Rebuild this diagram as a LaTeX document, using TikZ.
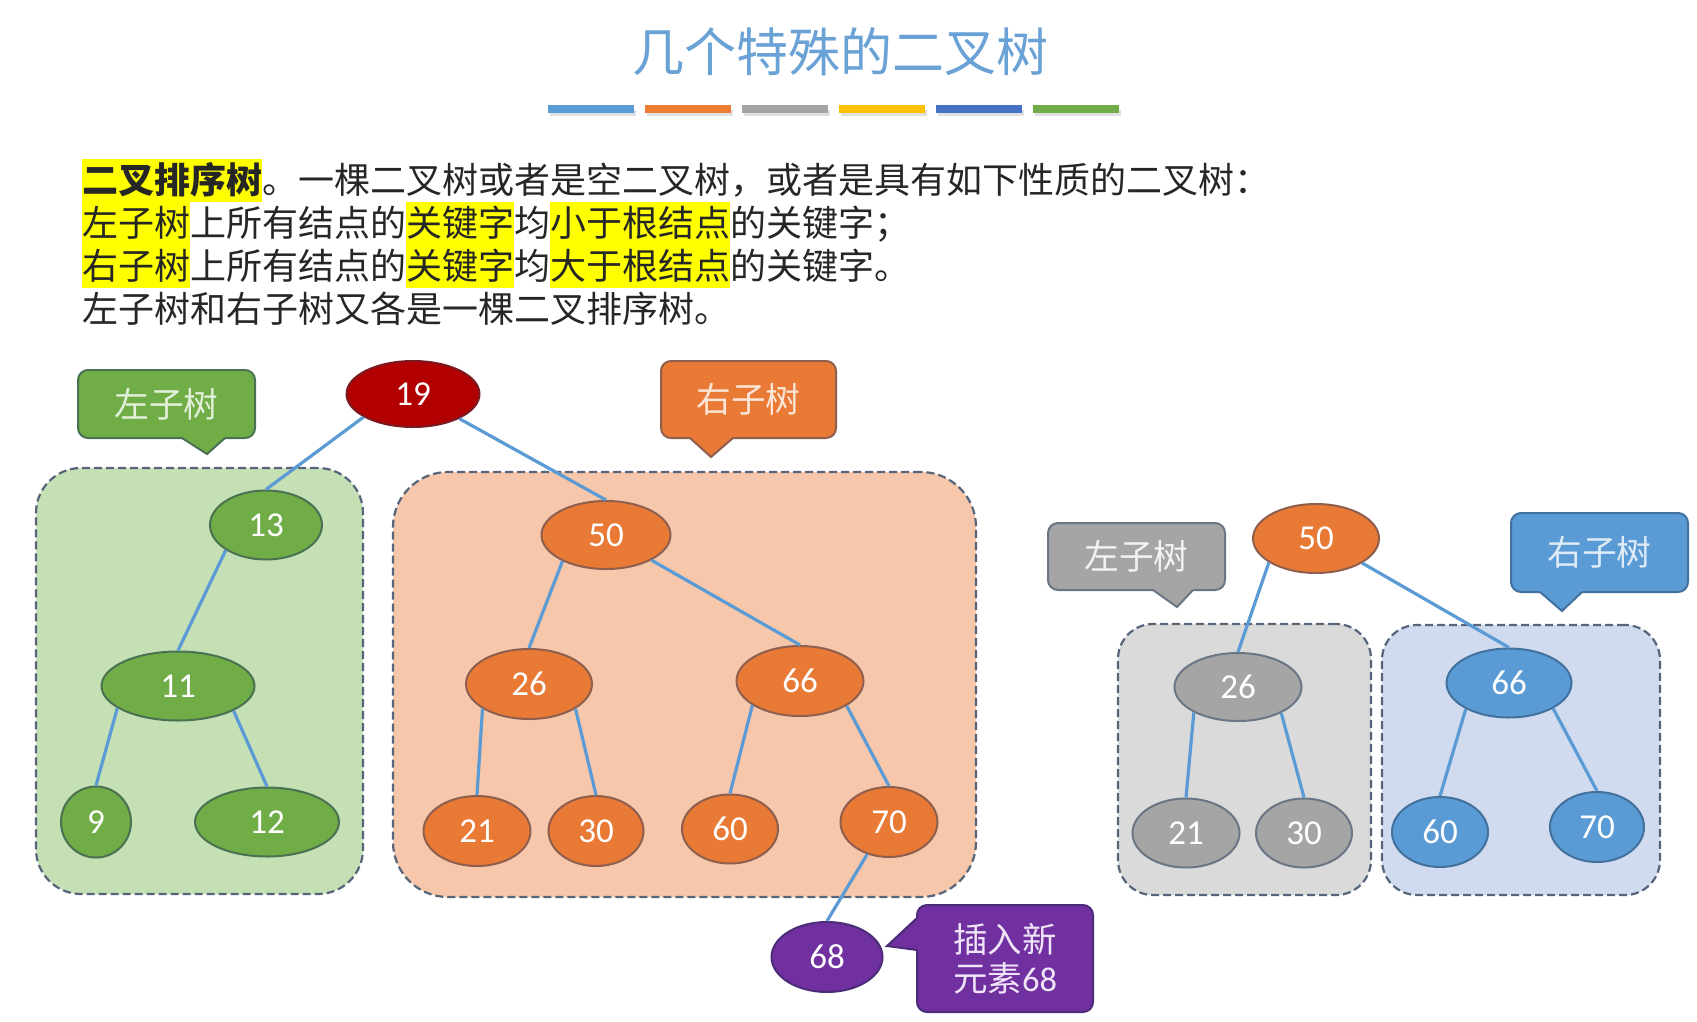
\documentclass[tikz,border=0pt]{standalone}
\usepackage{xcolor}
\usepackage{fontspec}
\setmainfont{Noto Sans CJK SC}
\newfontfamily\numfont{Carlito}
\usepackage{tikz}
\usetikzlibrary{shapes.geometric}

\definecolor{titleblue}{HTML}{6AA2D6}
\definecolor{txtgray}{HTML}{262626}
\definecolor{hlyellow}{HTML}{FFFF00}
\definecolor{edgeblue}{HTML}{5B9BD5}
\definecolor{dashgray}{HTML}{56657A}
\definecolor{barorange}{HTML}{ED7D31}
\definecolor{bargray}{HTML}{A5A5A5}
\definecolor{bargold}{HTML}{FFC000}
\definecolor{barblue}{HTML}{4472C4}
\definecolor{bargreen}{HTML}{70AD47}
\definecolor{rootred}{HTML}{B20000}
\definecolor{rootline}{HTML}{7A1A22}
\definecolor{grn}{HTML}{70AD47}
\definecolor{grnline}{HTML}{4B7153}
\definecolor{grnbg}{HTML}{C5E0B4}
\definecolor{grntxt}{HTML}{E2F0D9}
\definecolor{org}{HTML}{E97A35}
\definecolor{orgline}{HTML}{8E5E4E}
\definecolor{orgbg}{HTML}{F6C7AA}
\definecolor{orgtxt}{HTML}{FBE5D6}
\definecolor{gry}{HTML}{A5A5A5}
\definecolor{gryline}{HTML}{6A7684}
\definecolor{grybg}{HTML}{DADADA}
\definecolor{grytxt}{HTML}{F2F2F2}
\definecolor{blu}{HTML}{5B9BD5}
\definecolor{bluline}{HTML}{41719C}
\definecolor{blubg}{HTML}{D0DBF0}
\definecolor{blutxt}{HTML}{DEEBF7}
\definecolor{pur}{HTML}{7030A0}
\definecolor{purline}{HTML}{4A2C78}
\definecolor{purtxt}{HTML}{F0E4F8}

\newcommand{\hl}[1]{{\setlength{\fboxsep}{0pt}\colorbox{hlyellow}{\rule[-0.22em]{0pt}{1.18em}#1}}}

\begin{document}
\begin{tikzpicture}[x=1pt, y=-1pt]
\tikzstyle{txt} = [anchor=base west, inner sep=0pt, text=txtgray, font=\fontsize{36}{40}\selectfont]
\tikzstyle{subtree} = [rectangle, draw=dashgray, dash pattern=on 8pt off 4pt, line width=2.2pt, inner sep=0pt]
\tikzstyle{tag} = [rectangle, rounded corners=10pt, line width=2pt, inner sep=0pt, text height=30.5pt, text depth=4.2pt, font=\fontsize{34.7}{36}\selectfont]
\tikzstyle{tagline} = [line width=2pt, line join=miter]
\tikzstyle{bst} = [ellipse, draw, line width=2pt, inner sep=0pt, text=white, font=\numfont\fontsize{35}{35}\selectfont]
\tikzstyle{link} = [draw=edgeblue, line width=3.2pt]

	\fill[white] (0,0) rectangle (1697,1021);
	\useasboundingbox (0,0) rectangle (1697,1021);

	% title and colour bars
	\node[anchor=base, inner sep=0pt, text=titleblue, font=\fontsize{52}{56}\selectfont] (title) at (840,71.8) {几个特殊的二叉树};
	\fill[black!12] (550,110) rectangle ++(86,6);
	\fill[black!12] (647,110) rectangle ++(86,6);
	\fill[black!12] (744,110) rectangle ++(86,6);
	\fill[black!12] (841,110) rectangle ++(86,6);
	\fill[black!12] (938,110) rectangle ++(86,6);
	\fill[black!12] (1035,110) rectangle ++(86,6);
	\fill[edgeblue] (548,105) rectangle ++(86,8);
	\fill[barorange] (645,105) rectangle ++(86,8);
	\fill[bargray] (742,105) rectangle ++(86,8);
	\fill[bargold] (839,105) rectangle ++(86,8);
	\fill[barblue] (936,105) rectangle ++(86,8);
	\fill[bargreen] (1033,105) rectangle ++(86,8);

	% definition
	\node[txt] (line1) at (82,193.6) {\hl{\textbf{二叉排序树}}。一棵二叉树或者是空二叉树，或者是具有如下性质的二叉树：};
	\node[txt] (line2) at (82,236.6) {\hl{左子树}上所有结点的\hl{关键字}均\hl{小于根结点}的关键字；};
	\node[txt] (line3) at (82,279.6) {\hl{右子树}上所有结点的\hl{关键字}均\hl{大于根结点}的关键字。};
	\node[txt] (line4) at (82,322.6) {左子树和右子树又各是一棵二叉排序树。};

	% subtree areas
	\node[subtree, fill=grnbg, rounded corners=45pt, minimum width=327pt, minimum height=426pt] (lsub) at (199.5,681) {};
	\node[subtree, fill=orgbg, rounded corners=55pt, minimum width=583pt, minimum height=425pt] (rsub) at (684.5,684.5) {};
	\node[subtree, fill=grybg, rounded corners=35pt, minimum width=253pt, minimum height=271pt] (lsub2) at (1244.5,759.5) {};
	\node[subtree, fill=blubg, rounded corners=35pt, minimum width=278pt, minimum height=270pt] (rsub2) at (1521,760) {};

	% tags
	\node[tag, fill=grn, draw=grnline, text=grntxt, minimum width=177pt, minimum height=68pt] (ltag) at (166.5,404) {左子树};
	\fill[grn] (182,435) -- (182,438) -- (207,454) -- (225,438) -- (225,435) -- cycle;
	\draw[tagline, draw=grnline] (182,438) -- (207,454) -- (225,438);
	\node[tag, fill=org, draw=orgline, text=orgtxt, minimum width=175pt, minimum height=77pt] (rtag) at (748.5,399.5) {右子树};
	\fill[org] (690,435) -- (690,438) -- (711,457) -- (733,438) -- (733,435) -- cycle;
	\draw[tagline, draw=orgline] (690,438) -- (711,457) -- (733,438);
	\node[tag, fill=gry, draw=gryline, text=grytxt, minimum width=177pt, minimum height=67pt] (ltag2) at (1136.5,556.5) {左子树};
	\fill[gry] (1153,587) -- (1153,590) -- (1177,607) -- (1193,590) -- (1193,587) -- cycle;
	\draw[tagline, draw=gryline] (1153,590) -- (1177,607) -- (1193,590);
	\node[tag, fill=blu, draw=bluline, text=blutxt, minimum width=177pt, minimum height=79pt] (rtag2) at (1599.5,552.5) {右子树};
	\fill[blu] (1540,589) -- (1540,592) -- (1562,611) -- (1582,592) -- (1582,589) -- cycle;
	\draw[tagline, draw=bluline] (1540,592) -- (1562,611) -- (1582,592);
	\node[rectangle, rounded corners=10pt, line width=2pt, inner sep=0pt, align=center, fill=pur, draw=purline, text=purtxt, font=\fontsize{34.5}{39}\selectfont, minimum width=176pt, minimum height=107pt] (newtag) at (1005,958.5) {插入新\\元素{\numfont 68}};
	\fill[pur] (920,918) -- (917,918) -- (887,946) -- (917,950) -- (920,950) -- cycle;
	\draw[tagline, draw=purline] (917,918) -- (887,946) -- (917,950);

	% first tree
	\node[bst, fill=rootred, draw=rootline, minimum width=133pt, minimum height=66pt] (n19) at (413,394) {19};
	\node[bst, fill=grn, draw=grnline, minimum width=112pt, minimum height=69pt] (n13) at (266,525) {13};
	\node[bst, fill=grn, draw=grnline, minimum width=153pt, minimum height=69pt] (n11) at (178,686) {11};
	\node[bst, fill=grn, draw=grnline, minimum width=70pt, minimum height=71pt] (n9) at (96,822) {9};
	\node[bst, fill=grn, draw=grnline, minimum width=144pt, minimum height=69pt] (n12) at (267,822) {12};
	\node[bst, fill=org, draw=orgline, minimum width=129pt, minimum height=68pt] (n50) at (606,535) {50};
	\node[bst, fill=org, draw=orgline, minimum width=126pt, minimum height=70pt] (n26) at (529,684) {26};
	\node[bst, fill=org, draw=orgline, minimum width=127pt, minimum height=70pt] (n66) at (800,681) {66};
	\node[bst, fill=org, draw=orgline, minimum width=107pt, minimum height=70pt] (n21) at (477,831) {21};
	\node[bst, fill=org, draw=orgline, minimum width=95pt, minimum height=70pt] (n30) at (596,831) {30};
	\node[bst, fill=org, draw=orgline, minimum width=96pt, minimum height=69pt] (n60) at (730,829) {60};
	\node[bst, fill=org, draw=orgline, minimum width=97pt, minimum height=70pt] (n70) at (889,822) {70};
	\node[bst, fill=pur, draw=purline, minimum width=111pt, minimum height=70pt] (n68) at (827,957) {68};

	% second tree
	\node[bst, fill=org, draw=orgline, minimum width=126pt, minimum height=69pt] (m50) at (1316,538.5) {50};
	\node[bst, fill=gry, draw=gryline, minimum width=127pt, minimum height=68pt] (m26) at (1238,687) {26};
	\node[bst, fill=gry, draw=gryline, minimum width=107pt, minimum height=69pt] (m21) at (1186,833) {21};
	\node[bst, fill=gry, draw=gryline, minimum width=96pt, minimum height=69pt] (m30) at (1304,833) {30};
	\node[bst, fill=blu, draw=bluline, minimum width=125pt, minimum height=69pt] (m66) at (1509,683) {66};
	\node[bst, fill=blu, draw=bluline, minimum width=96pt, minimum height=70pt] (m60) at (1440,832) {60};
	\node[bst, fill=blu, draw=bluline, minimum width=94pt, minimum height=70pt] (m70) at (1597,827) {70};

	\draw[link] (n19.205) -- (n13.north);
	\draw[link] (n19.332) -- (n50.north);
	\draw[link] (n13.212) -- (n11.north);
	\draw[link] (n11.200) -- (n9.north);
	\draw[link] (n11.336) -- (n12.north);
	\draw[link] (n50.211) -- (n26.north);
	\draw[link] (n50.331) -- (n66.north);
	\draw[link] (n26.208) -- (n21.north);
	\draw[link] (n26.332) -- (n30.north);
	\draw[link] (n66.207) -- (n60.north);
	\draw[link] (n66.332) -- (n70.north);
	\draw[link] (n70.236) -- (n68.north);
	\draw[link] (m50.207) -- (m26.north);
	\draw[link] (m50.332) -- (m66.north);
	\draw[link] (m26.210) -- (m21.north);
	\draw[link] (m26.329) -- (m30.north);
	\draw[link] (m66.211) -- (m60.north);
	\draw[link] (m66.330) -- (m70.north);

\end{tikzpicture}
\end{document}
